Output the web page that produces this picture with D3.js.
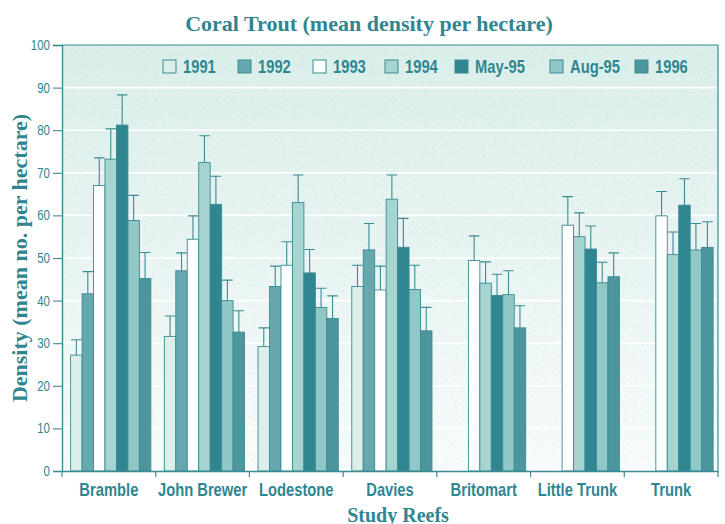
<!DOCTYPE html>
<html>
<head>
<meta charset="utf-8">
<script src="https://cdn.jsdelivr.net/npm/d3@7"></script>
<style>
  html, body { margin: 0; padding: 0; background: #ffffff; }
  svg { display: block; }
</style>
</head>
<body>
<svg id="chart" width="725" height="524"></svg>
<script>
// Reefs surveyed and survey periods
const reefs = ["Bramble", "John Brewer", "Lodestone", "Davies", "Britomart", "Little Trunk", "Trunk"];
const periods = ["1991", "1992", "1993", "1994", "May-95", "Aug-95", "1996"];

// Mean density (fish per hectare); null = reef not surveyed that period
const mean1991 = [27.2, 31.6, 29.2, 43.3, null, null, null];
const mean1992 = [41.6, 47.0, 43.3, 51.9, null, null, null];
const mean1993 = [67.0, 54.4, 48.3, 42.5, 49.4, 57.7, 59.9];
const mean1994 = [73.2, 72.4, 63.0, 63.8, 44.1, 55.0, 50.8];
const meanMay95 = [81.2, 62.6, 46.5, 52.5, 41.2, 52.1, 62.4];
const meanAug95 = [58.8, 40.0, 38.4, 42.6, 41.4, 44.2, 51.9];
const mean1996 = [45.2, 32.6, 35.8, 32.9, 33.6, 45.6, 52.5];

// Upper end of the standard-error bar for each mean
const upper1991 = [30.8, 36.4, 33.6, 48.3, null, null, null];
const upper1992 = [46.8, 51.2, 48.1, 58.1, null, null, null];
const upper1993 = [73.5, 59.9, 53.8, 48.1, 55.2, 64.4, 65.6];
const upper1994 = [80.3, 78.7, 69.5, 69.5, 49.1, 60.6, 56.1];
const upperMay95 = [88.3, 69.2, 52.0, 59.3, 46.2, 57.5, 68.6];
const upperAug95 = [64.7, 44.8, 42.9, 48.3, 47.0, 49.0, 58.1];
const upper1996 = [51.3, 37.6, 41.1, 38.4, 38.8, 51.2, 58.5];

const yTicks = [0, 10, 20, 30, 40, 50, 60, 70, 80, 90, 100];

const means = [mean1991, mean1992, mean1993, mean1994, meanMay95, meanAug95, mean1996];
const uppers = [upper1991, upper1992, upper1993, upper1994, upperMay95, upperAug95, upper1996];

const fills = ["#dceeea", "#67a8ae", "#fdfefe", "#a7d3d1", "#2f8590", "#90c7c7", "#4e969e"];
const teal = "#3a8b94";
const textTeal = "#2f8690";
const sans = "'Liberation Sans', Arial, sans-serif";
const serif = "'Liberation Serif', 'Times New Roman', serif";
const narrow = 0.82; // horizontal squeeze giving a condensed sans face

const svg = d3.select("#chart");
const plot = { left: 62, right: 718, top: 45, bottom: 471 };

const x = d3.scaleBand().domain(reefs).range([plot.left, plot.right]).padding(0);
const xs = d3.scaleBand().domain(periods)
  .range([x.bandwidth() * 0.092, x.bandwidth() * 0.948]).padding(0);
const y = d3.scaleLinear().domain([0, 100]).range([plot.bottom, plot.top]);

// Plot background: pale grainy wash that fades towards the baseline
const defs = svg.append("defs");
const grad = defs.append("linearGradient").attr("id", "wash")
  .attr("x1", 0).attr("y1", 0).attr("x2", 0).attr("y2", 1);
grad.append("stop").attr("offset", "0%").attr("stop-color", "#dcefeb");
grad.append("stop").attr("offset", "40%").attr("stop-color", "#e8f4f2");
grad.append("stop").attr("offset", "100%").attr("stop-color", "#fafdfc");

const grain = defs.append("filter").attr("id", "grain")
  .attr("x", 0).attr("y", 0).attr("width", "100%").attr("height", "100%");
grain.append("feTurbulence").attr("type", "fractalNoise")
  .attr("baseFrequency", 0.9).attr("numOctaves", 2).attr("seed", 4).attr("result", "noise");
grain.append("feColorMatrix").attr("in", "noise").attr("type", "matrix")
  .attr("values", "0 0 0 0 0.3  0 0 0 0 0.6  0 0 0 0 0.62  0 0 0 -2.6 1.35");

svg.append("rect")
  .attr("x", plot.left).attr("y", plot.top)
  .attr("width", plot.right - plot.left).attr("height", plot.bottom - plot.top)
  .attr("fill", "url(#wash)");
svg.append("rect")
  .attr("x", plot.left).attr("y", plot.top)
  .attr("width", plot.right - plot.left).attr("height", plot.bottom - plot.top)
  .attr("fill", "#000").attr("filter", "url(#grain)").attr("opacity", 0.22);

// White gridlines
svg.append("g").selectAll("line")
  .data(yTicks.filter(t => t > 0 && t < 100))
  .join("line")
  .attr("x1", plot.left + 1).attr("x2", plot.right - 1)
  .attr("y1", d => y(d)).attr("y2", d => y(d))
  .attr("stroke", "#ffffff").attr("stroke-width", 1.6);

// Frame (top and right edges)
svg.append("path")
  .attr("d", `M${plot.left},${plot.top}H${plot.right}V${plot.bottom}`)
  .attr("fill", "none").attr("stroke", teal).attr("stroke-width", 1.2);

// Bars and error bars
const records = [];
periods.forEach((p, si) => {
  reefs.forEach((r, ri) => {
    const v = means[si][ri];
    if (v !== null) records.push({ reef: r, period: p, si, value: v, upper: uppers[si][ri] });
  });
});

svg.append("g").selectAll("rect")
  .data(records)
  .join("rect")
  .attr("x", d => x(d.reef) + xs(d.period))
  .attr("y", d => y(d.value))
  .attr("width", xs.bandwidth())
  .attr("height", d => y(0) - y(d.value))
  .attr("fill", d => fills[d.si])
  .attr("stroke", teal).attr("stroke-width", 0.9);

svg.append("g").attr("stroke", teal).attr("stroke-width", 1.1).attr("fill", "none")
  .selectAll("path")
  .data(records)
  .join("path")
  .attr("d", d => {
    const cx = x(d.reef) + xs(d.period) + xs.bandwidth() / 2;
    const half = xs.bandwidth() / 2 - 0.5;
    return `M${cx},${y(d.value)}V${y(d.upper)}M${cx - half},${y(d.upper)}H${cx + half}`;
  });

// Y axis
const yAxis = svg.append("g")
  .attr("transform", `translate(${plot.left},0)`)
  .call(d3.axisLeft(y).tickValues(yTicks).tickSize(9).tickPadding(3));
yAxis.select(".domain").attr("stroke", teal).attr("stroke-width", 1.4);
yAxis.selectAll(".tick line").attr("stroke", teal).attr("stroke-width", 1.1);
yAxis.selectAll(".tick text")
  .attr("fill", textTeal)
  .attr("x", -12 / narrow)
  .attr("transform", `scale(${narrow},1)`)
  .style("font-family", sans)
  .style("font-size", "14px");

// X axis: labels centred in each band, ticks on band boundaries
const xAxis = svg.append("g")
  .attr("transform", `translate(0,${plot.bottom})`)
  .call(d3.axisBottom(x).tickSize(0).tickPadding(20));
xAxis.select(".domain").attr("stroke", teal).attr("stroke-width", 1.4);
xAxis.selectAll(".tick text")
  .attr("fill", textTeal)
  .attr("dy", "0.3em")
  .attr("transform", `scale(${narrow},1)`)
  .style("font-family", sans)
  .style("font-weight", "bold")
  .style("font-size", "18px");
xAxis.append("g").selectAll("line")
  .data(reefs.map(r => x(r)).concat([plot.right]))
  .join("line")
  .attr("x1", d => d).attr("x2", d => d)
  .attr("y1", 0).attr("y2", 6)
  .attr("stroke", teal).attr("stroke-width", 1.2);

// Legend
const legendX = [163, 238, 313, 385, 455, 550, 635];
const items = svg.append("g").selectAll("g")
  .data(periods)
  .join("g")
  .attr("transform", (d, i) => `translate(${legendX[i]},60)`);
items.append("rect")
  .attr("width", 13).attr("height", 13)
  .attr("fill", (d, i) => fills[i])
  .attr("stroke", teal).attr("stroke-width", 1);
items.append("text")
  .attr("x", 20 / narrow).attr("y", 12.5)
  .attr("transform", `scale(${narrow},1)`)
  .attr("fill", textTeal)
  .style("font-family", sans)
  .style("font-weight", "bold")
  .style("font-size", "18px")
  .text(d => d);

// Titles
svg.append("text")
  .attr("x", 369).attr("y", 31)
  .attr("text-anchor", "middle")
  .attr("fill", textTeal)
  .style("font-family", serif).style("font-weight", "bold").style("font-size", "22px")
  .text("Coral Trout (mean density per hectare)");

svg.append("text")
  .attr("transform", "translate(27,258) rotate(-90)")
  .attr("text-anchor", "middle")
  .attr("fill", textTeal)
  .style("font-family", serif).style("font-weight", "bold").style("font-size", "22px")
  .text("Density (mean no. per hectare)");

svg.append("text")
  .attr("x", 398).attr("y", 522)
  .attr("text-anchor", "middle")
  .attr("fill", textTeal)
  .style("font-family", serif).style("font-weight", "bold").style("font-size", "20px")
  .text("Study Reefs");
</script>
</body>
</html>
